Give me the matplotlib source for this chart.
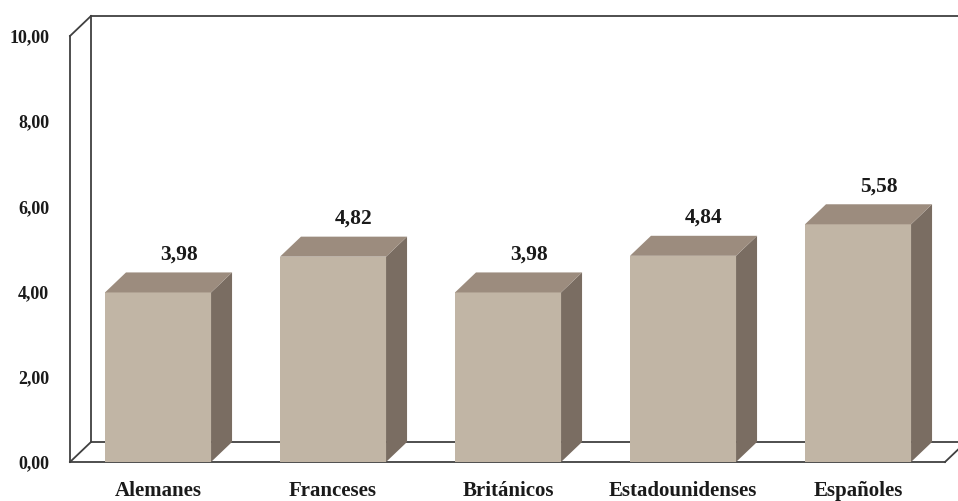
import matplotlib.pyplot as plt
from matplotlib.patches import Polygon

categories = ['Alemanes', 'Franceses', 'Británicos', 'Estadounidenses', 'Españoles']
values = [3.98, 4.82, 3.98, 4.84, 5.58]
y_ticks = [0, 2, 4, 6, 8, 10]

FRONT = '#c1b5a5'
TOP = '#9c8c7e'
SIDE = '#7a6d62'
LINE = '#404040'

# depth offset of the pseudo-3d look, in data units
DX = 0.12
DY = 0.47
BAR_W = 0.606


def fmt(v):
    return f'{v:.2f}'.replace('.', ',')


plt.rcParams['font.family'] = ['Liberation Serif', 'DejaVu Serif']
plt.rcParams['font.weight'] = 'bold'

fig = plt.figure(figsize=(9.58, 5.01), dpi=100)
ax = fig.add_axes([70 / 958, 39 / 501, 875 / 958, 426 / 501])
x0, x1 = -0.503, 4.497
ax.set_xlim(x0, x1)
ax.set_ylim(0, 10)

# walls
top = 10
frame = [
    ([x0, x0], [0, top]),
    ([x0, x0 + DX], [top, top + DY]),
    ([x0 + DX, x0 + DX], [DY, top + DY]),
    ([x0 + DX, x1 + 0.3], [top + DY, top + DY]),
    ([x0, x1], [0, 0]),
    ([x0 + DX, x1 + 0.3], [DY, DY]),
    ([x0, x0 + DX], [0, DY]),
    ([x1, x1 + DX], [0, DY]),
]
for xs, ys in frame:
    ax.plot(xs, ys, color=LINE, lw=1.3, clip_on=False, zorder=1)

xs = list(range(len(categories)))
ax.bar(xs, values, width=BAR_W, color=FRONT, zorder=3)
for i, v in zip(xs, values):
    l, r = i - BAR_W / 2, i + BAR_W / 2
    ax.add_patch(Polygon([(r, 0), (r + DX, DY), (r + DX, v + DY), (r, v)],
                         closed=True, facecolor=SIDE, edgecolor='none', zorder=3, clip_on=False))
    ax.add_patch(Polygon([(l, v), (l + DX, v + DY), (r + DX, v + DY), (r, v)],
                         closed=True, facecolor=TOP, edgecolor='none', zorder=3, clip_on=False))
    ax.text(i + DX, v + DY + 0.42, fmt(v), ha='center', va='center',
            fontsize=15.5, fontweight='bold', color='#1a1a1a')

for s in ax.spines.values():
    s.set_visible(False)
ax.set_xticks(xs)
ax.set_xticklabels(categories, fontsize=15, fontweight='bold', color='#1a1a1a')
ax.set_yticks(y_ticks)
ax.set_yticklabels([fmt(t) for t in y_ticks], fontsize=13, fontweight='bold', color='#1a1a1a')
ax.tick_params(axis='x', length=0, pad=14)
ax.tick_params(axis='y', length=0, pad=15)
ax.patch.set_visible(False)

fig.savefig('out.png', dpi=100, facecolor='white')
